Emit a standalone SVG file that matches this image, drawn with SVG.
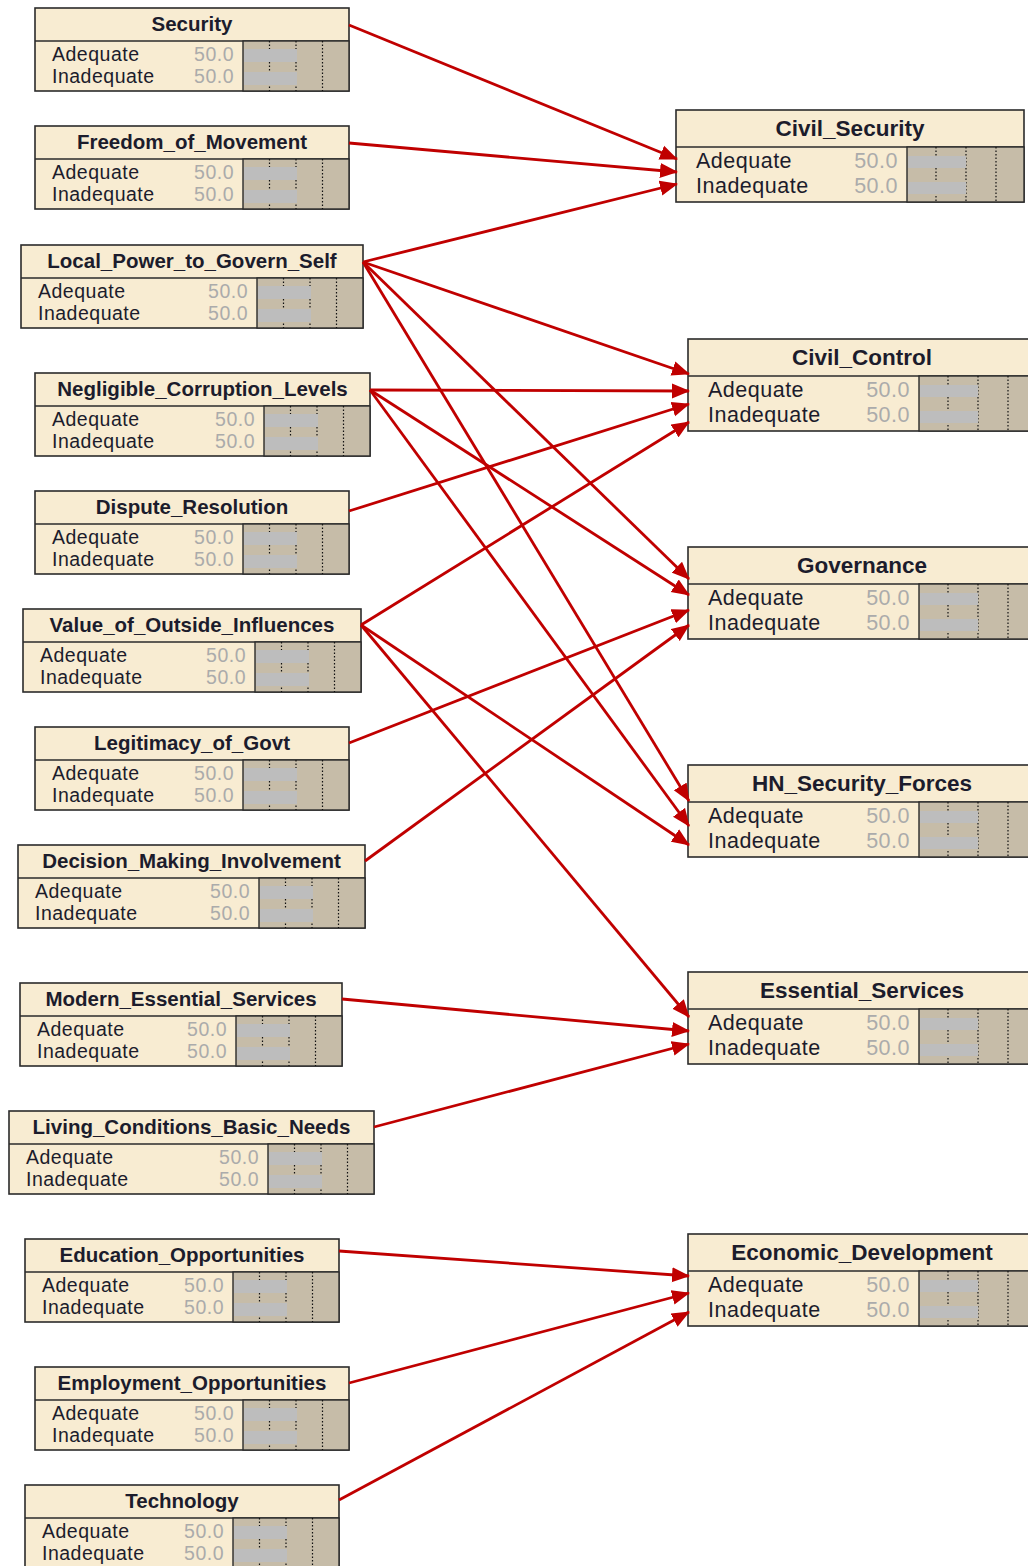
<svg xmlns="http://www.w3.org/2000/svg" width="1028" height="1566" viewBox="0 0 1028 1566">
<style>
.box{fill:#f8ecd2;stroke:#2b2b2b;stroke-width:1.6}
.div{stroke:#2b2b2b;stroke-width:1.6}
.ba{fill:#c6bca8;stroke:#2b2b2b;stroke-width:1.4}
.bar{fill:#bdbdbd}
.dot{stroke:#111;stroke-width:1.2;stroke-dasharray:1.5 2}
.t{font-family:"Liberation Sans",Arial,sans-serif;font-weight:bold;fill:#1c1c2c;text-anchor:middle}
.lt{font-size:20.5px}
.rt{font-size:22.5px}
.s{font-family:"Liberation Sans",Arial,sans-serif;fill:#1c1c2c}
.ls{font-size:19.5px;letter-spacing:0.5px}
.rs{font-size:21.5px;letter-spacing:0.5px}
.n{font-family:"Liberation Sans",Arial,sans-serif;fill:#ababab;text-anchor:end}
.e{stroke:#c00000;stroke-width:2.8;fill:none;marker-end:url(#ah)}
</style>
<defs>
<marker id="ah" markerUnits="userSpaceOnUse" markerWidth="18" markerHeight="16" refX="17" refY="7.5" orient="auto" viewBox="0 0 18 15">
<path d="M0,0 L18,7.5 L0,15 z" fill="#c00000"/>
</marker>
<g id="lbody">
</g>
</defs>

<g id="Security" transform="translate(35,8)">
<rect class="box" width="314" height="83"/><line class="div" x1="0" y1="33" x2="314" y2="33"/>
<rect class="ba" x="208" y="33" width="106" height="50"/>
<line class="dot" x1="234.5" y1="33" x2="234.5" y2="83"/><line class="dot" x1="261" y1="33" x2="261" y2="83"/><line class="dot" x1="287.5" y1="33" x2="287.5" y2="83"/>
<rect class="bar" x="209" y="41" width="53" height="13"/><rect class="bar" x="209" y="64" width="53" height="13"/>
<text class="t lt" x="157" y="23">Security</text>
<text class="s ls" x="17" y="53">Adequate</text><text class="s ls" x="17" y="75">Inadequate</text>
<text class="n ls" x="199" y="53">50.0</text><text class="n ls" x="199" y="75">50.0</text>
</g>

<g id="Freedom_of_Movement" transform="translate(35,126)">
<rect class="box" width="314" height="83"/><line class="div" x1="0" y1="33" x2="314" y2="33"/>
<rect class="ba" x="208" y="33" width="106" height="50"/>
<line class="dot" x1="234.5" y1="33" x2="234.5" y2="83"/><line class="dot" x1="261" y1="33" x2="261" y2="83"/><line class="dot" x1="287.5" y1="33" x2="287.5" y2="83"/>
<rect class="bar" x="209" y="41" width="53" height="13"/><rect class="bar" x="209" y="64" width="53" height="13"/>
<text class="t lt" x="157" y="23">Freedom_of_Movement</text>
<text class="s ls" x="17" y="53">Adequate</text><text class="s ls" x="17" y="75">Inadequate</text>
<text class="n ls" x="199" y="53">50.0</text><text class="n ls" x="199" y="75">50.0</text>
</g>

<g id="Local_Power_to_Govern_Self" transform="translate(21,245)">
<rect class="box" width="342" height="83"/><line class="div" x1="0" y1="33" x2="342" y2="33"/>
<rect class="ba" x="236" y="33" width="106" height="50"/>
<line class="dot" x1="262.5" y1="33" x2="262.5" y2="83"/><line class="dot" x1="289" y1="33" x2="289" y2="83"/><line class="dot" x1="315.5" y1="33" x2="315.5" y2="83"/>
<rect class="bar" x="237" y="41" width="53" height="13"/><rect class="bar" x="237" y="64" width="53" height="13"/>
<text class="t lt" x="171" y="23">Local_Power_to_Govern_Self</text>
<text class="s ls" x="17" y="53">Adequate</text><text class="s ls" x="17" y="75">Inadequate</text>
<text class="n ls" x="227" y="53">50.0</text><text class="n ls" x="227" y="75">50.0</text>
</g>

<g id="Negligible_Corruption_Levels" transform="translate(35,373)">
<rect class="box" width="335" height="83"/><line class="div" x1="0" y1="33" x2="335" y2="33"/>
<rect class="ba" x="229" y="33" width="106" height="50"/>
<line class="dot" x1="255.5" y1="33" x2="255.5" y2="83"/><line class="dot" x1="282" y1="33" x2="282" y2="83"/><line class="dot" x1="308.5" y1="33" x2="308.5" y2="83"/>
<rect class="bar" x="230" y="41" width="53" height="13"/><rect class="bar" x="230" y="64" width="53" height="13"/>
<text class="t lt" x="167.5" y="23">Negligible_Corruption_Levels</text>
<text class="s ls" x="17" y="53">Adequate</text><text class="s ls" x="17" y="75">Inadequate</text>
<text class="n ls" x="220" y="53">50.0</text><text class="n ls" x="220" y="75">50.0</text>
</g>

<g id="Dispute_Resolution" transform="translate(35,491)">
<rect class="box" width="314" height="83"/><line class="div" x1="0" y1="33" x2="314" y2="33"/>
<rect class="ba" x="208" y="33" width="106" height="50"/>
<line class="dot" x1="234.5" y1="33" x2="234.5" y2="83"/><line class="dot" x1="261" y1="33" x2="261" y2="83"/><line class="dot" x1="287.5" y1="33" x2="287.5" y2="83"/>
<rect class="bar" x="209" y="41" width="53" height="13"/><rect class="bar" x="209" y="64" width="53" height="13"/>
<text class="t lt" x="157" y="23">Dispute_Resolution</text>
<text class="s ls" x="17" y="53">Adequate</text><text class="s ls" x="17" y="75">Inadequate</text>
<text class="n ls" x="199" y="53">50.0</text><text class="n ls" x="199" y="75">50.0</text>
</g>

<g id="Value_of_Outside_Influences" transform="translate(23,609)">
<rect class="box" width="338" height="83"/><line class="div" x1="0" y1="33" x2="338" y2="33"/>
<rect class="ba" x="232" y="33" width="106" height="50"/>
<line class="dot" x1="258.5" y1="33" x2="258.5" y2="83"/><line class="dot" x1="285" y1="33" x2="285" y2="83"/><line class="dot" x1="311.5" y1="33" x2="311.5" y2="83"/>
<rect class="bar" x="233" y="41" width="53" height="13"/><rect class="bar" x="233" y="64" width="53" height="13"/>
<text class="t lt" x="169" y="23">Value_of_Outside_Influences</text>
<text class="s ls" x="17" y="53">Adequate</text><text class="s ls" x="17" y="75">Inadequate</text>
<text class="n ls" x="223" y="53">50.0</text><text class="n ls" x="223" y="75">50.0</text>
</g>

<g id="Legitimacy_of_Govt" transform="translate(35,727)">
<rect class="box" width="314" height="83"/><line class="div" x1="0" y1="33" x2="314" y2="33"/>
<rect class="ba" x="208" y="33" width="106" height="50"/>
<line class="dot" x1="234.5" y1="33" x2="234.5" y2="83"/><line class="dot" x1="261" y1="33" x2="261" y2="83"/><line class="dot" x1="287.5" y1="33" x2="287.5" y2="83"/>
<rect class="bar" x="209" y="41" width="53" height="13"/><rect class="bar" x="209" y="64" width="53" height="13"/>
<text class="t lt" x="157" y="23">Legitimacy_of_Govt</text>
<text class="s ls" x="17" y="53">Adequate</text><text class="s ls" x="17" y="75">Inadequate</text>
<text class="n ls" x="199" y="53">50.0</text><text class="n ls" x="199" y="75">50.0</text>
</g>

<g id="Decision_Making_Involvement" transform="translate(18,845)">
<rect class="box" width="347" height="83"/><line class="div" x1="0" y1="33" x2="347" y2="33"/>
<rect class="ba" x="241" y="33" width="106" height="50"/>
<line class="dot" x1="267.5" y1="33" x2="267.5" y2="83"/><line class="dot" x1="294" y1="33" x2="294" y2="83"/><line class="dot" x1="320.5" y1="33" x2="320.5" y2="83"/>
<rect class="bar" x="242" y="41" width="53" height="13"/><rect class="bar" x="242" y="64" width="53" height="13"/>
<text class="t lt" x="173.5" y="23">Decision_Making_Involvement</text>
<text class="s ls" x="17" y="53">Adequate</text><text class="s ls" x="17" y="75">Inadequate</text>
<text class="n ls" x="232" y="53">50.0</text><text class="n ls" x="232" y="75">50.0</text>
</g>

<g id="Modern_Essential_Services" transform="translate(20,983)">
<rect class="box" width="322" height="83"/><line class="div" x1="0" y1="33" x2="322" y2="33"/>
<rect class="ba" x="216" y="33" width="106" height="50"/>
<line class="dot" x1="242.5" y1="33" x2="242.5" y2="83"/><line class="dot" x1="269" y1="33" x2="269" y2="83"/><line class="dot" x1="295.5" y1="33" x2="295.5" y2="83"/>
<rect class="bar" x="217" y="41" width="53" height="13"/><rect class="bar" x="217" y="64" width="53" height="13"/>
<text class="t lt" x="161" y="23">Modern_Essential_Services</text>
<text class="s ls" x="17" y="53">Adequate</text><text class="s ls" x="17" y="75">Inadequate</text>
<text class="n ls" x="207" y="53">50.0</text><text class="n ls" x="207" y="75">50.0</text>
</g>

<g id="Living_Conditions_Basic_Needs" transform="translate(9,1111)">
<rect class="box" width="365" height="83"/><line class="div" x1="0" y1="33" x2="365" y2="33"/>
<rect class="ba" x="259" y="33" width="106" height="50"/>
<line class="dot" x1="285.5" y1="33" x2="285.5" y2="83"/><line class="dot" x1="312" y1="33" x2="312" y2="83"/><line class="dot" x1="338.5" y1="33" x2="338.5" y2="83"/>
<rect class="bar" x="260" y="41" width="53" height="13"/><rect class="bar" x="260" y="64" width="53" height="13"/>
<text class="t lt" x="182.5" y="23">Living_Conditions_Basic_Needs</text>
<text class="s ls" x="17" y="53">Adequate</text><text class="s ls" x="17" y="75">Inadequate</text>
<text class="n ls" x="250" y="53">50.0</text><text class="n ls" x="250" y="75">50.0</text>
</g>

<g id="Education_Opportunities" transform="translate(25,1239)">
<rect class="box" width="314" height="83"/><line class="div" x1="0" y1="33" x2="314" y2="33"/>
<rect class="ba" x="208" y="33" width="106" height="50"/>
<line class="dot" x1="234.5" y1="33" x2="234.5" y2="83"/><line class="dot" x1="261" y1="33" x2="261" y2="83"/><line class="dot" x1="287.5" y1="33" x2="287.5" y2="83"/>
<rect class="bar" x="209" y="41" width="53" height="13"/><rect class="bar" x="209" y="64" width="53" height="13"/>
<text class="t lt" x="157" y="23">Education_Opportunities</text>
<text class="s ls" x="17" y="53">Adequate</text><text class="s ls" x="17" y="75">Inadequate</text>
<text class="n ls" x="199" y="53">50.0</text><text class="n ls" x="199" y="75">50.0</text>
</g>

<g id="Employment_Opportunities" transform="translate(35,1367)">
<rect class="box" width="314" height="83"/><line class="div" x1="0" y1="33" x2="314" y2="33"/>
<rect class="ba" x="208" y="33" width="106" height="50"/>
<line class="dot" x1="234.5" y1="33" x2="234.5" y2="83"/><line class="dot" x1="261" y1="33" x2="261" y2="83"/><line class="dot" x1="287.5" y1="33" x2="287.5" y2="83"/>
<rect class="bar" x="209" y="41" width="53" height="13"/><rect class="bar" x="209" y="64" width="53" height="13"/>
<text class="t lt" x="157" y="23">Employment_Opportunities</text>
<text class="s ls" x="17" y="53">Adequate</text><text class="s ls" x="17" y="75">Inadequate</text>
<text class="n ls" x="199" y="53">50.0</text><text class="n ls" x="199" y="75">50.0</text>
</g>

<g id="Technology" transform="translate(25,1485)">
<rect class="box" width="314" height="83"/><line class="div" x1="0" y1="33" x2="314" y2="33"/>
<rect class="ba" x="208" y="33" width="106" height="50"/>
<line class="dot" x1="234.5" y1="33" x2="234.5" y2="83"/><line class="dot" x1="261" y1="33" x2="261" y2="83"/><line class="dot" x1="287.5" y1="33" x2="287.5" y2="83"/>
<rect class="bar" x="209" y="41" width="53" height="13"/><rect class="bar" x="209" y="64" width="53" height="13"/>
<text class="t lt" x="157" y="23">Technology</text>
<text class="s ls" x="17" y="53">Adequate</text><text class="s ls" x="17" y="75">Inadequate</text>
<text class="n ls" x="199" y="53">50.0</text><text class="n ls" x="199" y="75">50.0</text>
</g>

<g id="Civil_Security" transform="translate(676,110)">
<rect class="box" width="348" height="92"/><line class="div" x1="0" y1="37" x2="348" y2="37"/>
<rect class="ba" x="231" y="37" width="117" height="55"/>
<line class="dot" x1="260" y1="37" x2="260" y2="92"/><line class="dot" x1="290" y1="37" x2="290" y2="92"/><line class="dot" x1="320" y1="37" x2="320" y2="92"/>
<rect class="bar" x="232" y="46" width="58" height="12"/><rect class="bar" x="232" y="72" width="58" height="12"/>
<text class="t rt" x="174" y="26">Civil_Security</text>
<text class="s rs" x="20" y="58">Adequate</text><text class="s rs" x="20" y="83">Inadequate</text>
<text class="n rs" x="222" y="58">50.0</text><text class="n rs" x="222" y="83">50.0</text>
</g>

<g id="Civil_Control" transform="translate(688,339)">
<rect class="box" width="348" height="92"/><line class="div" x1="0" y1="37" x2="348" y2="37"/>
<rect class="ba" x="231" y="37" width="117" height="55"/>
<line class="dot" x1="260" y1="37" x2="260" y2="92"/><line class="dot" x1="290" y1="37" x2="290" y2="92"/><line class="dot" x1="320" y1="37" x2="320" y2="92"/>
<rect class="bar" x="232" y="46" width="58" height="12"/><rect class="bar" x="232" y="72" width="58" height="12"/>
<text class="t rt" x="174" y="26">Civil_Control</text>
<text class="s rs" x="20" y="58">Adequate</text><text class="s rs" x="20" y="83">Inadequate</text>
<text class="n rs" x="222" y="58">50.0</text><text class="n rs" x="222" y="83">50.0</text>
</g>

<g id="Governance" transform="translate(688,547)">
<rect class="box" width="348" height="92"/><line class="div" x1="0" y1="37" x2="348" y2="37"/>
<rect class="ba" x="231" y="37" width="117" height="55"/>
<line class="dot" x1="260" y1="37" x2="260" y2="92"/><line class="dot" x1="290" y1="37" x2="290" y2="92"/><line class="dot" x1="320" y1="37" x2="320" y2="92"/>
<rect class="bar" x="232" y="46" width="58" height="12"/><rect class="bar" x="232" y="72" width="58" height="12"/>
<text class="t rt" x="174" y="26">Governance</text>
<text class="s rs" x="20" y="58">Adequate</text><text class="s rs" x="20" y="83">Inadequate</text>
<text class="n rs" x="222" y="58">50.0</text><text class="n rs" x="222" y="83">50.0</text>
</g>

<g id="HN_Security_Forces" transform="translate(688,765)">
<rect class="box" width="348" height="92"/><line class="div" x1="0" y1="37" x2="348" y2="37"/>
<rect class="ba" x="231" y="37" width="117" height="55"/>
<line class="dot" x1="260" y1="37" x2="260" y2="92"/><line class="dot" x1="290" y1="37" x2="290" y2="92"/><line class="dot" x1="320" y1="37" x2="320" y2="92"/>
<rect class="bar" x="232" y="46" width="58" height="12"/><rect class="bar" x="232" y="72" width="58" height="12"/>
<text class="t rt" x="174" y="26">HN_Security_Forces</text>
<text class="s rs" x="20" y="58">Adequate</text><text class="s rs" x="20" y="83">Inadequate</text>
<text class="n rs" x="222" y="58">50.0</text><text class="n rs" x="222" y="83">50.0</text>
</g>

<g id="Essential_Services" transform="translate(688,972)">
<rect class="box" width="348" height="92"/><line class="div" x1="0" y1="37" x2="348" y2="37"/>
<rect class="ba" x="231" y="37" width="117" height="55"/>
<line class="dot" x1="260" y1="37" x2="260" y2="92"/><line class="dot" x1="290" y1="37" x2="290" y2="92"/><line class="dot" x1="320" y1="37" x2="320" y2="92"/>
<rect class="bar" x="232" y="46" width="58" height="12"/><rect class="bar" x="232" y="72" width="58" height="12"/>
<text class="t rt" x="174" y="26">Essential_Services</text>
<text class="s rs" x="20" y="58">Adequate</text><text class="s rs" x="20" y="83">Inadequate</text>
<text class="n rs" x="222" y="58">50.0</text><text class="n rs" x="222" y="83">50.0</text>
</g>

<g id="Economic_Development" transform="translate(688,1234)">
<rect class="box" width="348" height="92"/><line class="div" x1="0" y1="37" x2="348" y2="37"/>
<rect class="ba" x="231" y="37" width="117" height="55"/>
<line class="dot" x1="260" y1="37" x2="260" y2="92"/><line class="dot" x1="290" y1="37" x2="290" y2="92"/><line class="dot" x1="320" y1="37" x2="320" y2="92"/>
<rect class="bar" x="232" y="46" width="58" height="12"/><rect class="bar" x="232" y="72" width="58" height="12"/>
<text class="t rt" x="174" y="26">Economic_Development</text>
<text class="s rs" x="20" y="58">Adequate</text><text class="s rs" x="20" y="83">Inadequate</text>
<text class="n rs" x="222" y="58">50.0</text><text class="n rs" x="222" y="83">50.0</text>
</g>

<g id="connectors">
<line class="e" x1="349" y1="25" x2="677" y2="159"/>
<line class="e" x1="349" y1="143" x2="677" y2="172"/>
<line class="e" x1="363" y1="262" x2="677" y2="184"/>
<line class="e" x1="363" y1="262" x2="689" y2="374"/>
<line class="e" x1="370" y1="390" x2="689" y2="391"/>
<line class="e" x1="349" y1="511" x2="689" y2="404"/>
<line class="e" x1="361" y1="625" x2="689" y2="422"/>
<line class="e" x1="363" y1="262" x2="689" y2="579"/>
<line class="e" x1="370" y1="390" x2="689" y2="595"/>
<line class="e" x1="349" y1="743" x2="689" y2="610"/>
<line class="e" x1="365" y1="861" x2="689" y2="625"/>
<line class="e" x1="363" y1="262" x2="689" y2="801"/>
<line class="e" x1="370" y1="390" x2="689" y2="826"/>
<line class="e" x1="361" y1="625" x2="689" y2="845"/>
<line class="e" x1="361" y1="625" x2="689" y2="1017"/>
<line class="e" x1="342" y1="999" x2="689" y2="1031"/>
<line class="e" x1="374" y1="1127" x2="689" y2="1044"/>
<line class="e" x1="339" y1="1251" x2="689" y2="1276"/>
<line class="e" x1="349" y1="1383" x2="689" y2="1293"/>
<line class="e" x1="339" y1="1500" x2="689" y2="1312"/>
</g>
</svg>
